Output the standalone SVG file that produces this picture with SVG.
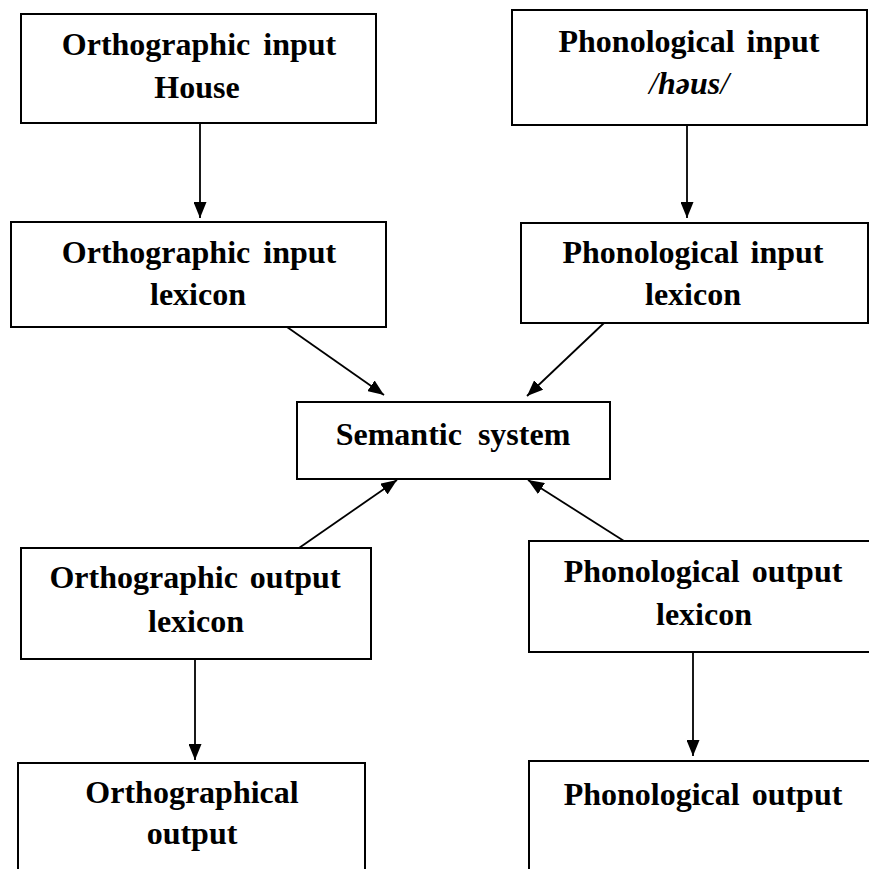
<svg xmlns="http://www.w3.org/2000/svg" width="869" height="869" viewBox="0 0 869 869">
<defs>
<style>
.box{fill:#fff;stroke:#000;stroke-width:2}
.t{font-family:"Liberation Serif","DejaVu Serif",serif;font-weight:bold;font-size:32px;fill:#000;text-anchor:middle}
.c{stroke:#000;stroke-width:1.8;fill:none;marker-end:url(#ah)}
</style>
<marker id="ah" viewBox="0 0 16 13" refX="16" refY="6.5" markerWidth="16" markerHeight="13" markerUnits="userSpaceOnUse" orient="auto">
<path d="M0,0 L16,6.5 L0,13 Z" fill="#000"/>
</marker>
</defs>
<rect width="869" height="869" fill="#fff"/>
<g id="connectors">
<line class="c" x1="200" y1="123" x2="200" y2="218"/>
<line class="c" x1="687" y1="125" x2="687" y2="218"/>
<line class="c" x1="287" y1="327" x2="384" y2="395"/>
<line class="c" x1="604" y1="323" x2="527" y2="396"/>
<line class="c" x1="299" y1="548" x2="397" y2="480"/>
<line class="c" x1="624" y1="541" x2="528" y2="480"/>
<line class="c" x1="195" y1="659" x2="195" y2="760"/>
<line class="c" x1="693" y1="652" x2="693" y2="756"/>
</g>
<g id="n1">
<rect class="box" x="21" y="14" width="355" height="109"/>
<text class="t" x="199" y="55" word-spacing="5">Orthographic input</text>
<text class="t" x="197" y="98">House</text>
</g>
<g id="n2">
<rect class="box" x="512" y="10" width="355" height="115"/>
<text class="t" x="689" y="52" word-spacing="4">Phonological input</text>
<text class="t" x="689" y="94" font-style="italic"><tspan font-weight="normal">/</tspan>həus<tspan font-weight="normal">/</tspan></text>
</g>
<g id="n3">
<rect class="box" x="11" y="222" width="375" height="105"/>
<text class="t" x="199" y="263" word-spacing="5">Orthographic input</text>
<text class="t" x="198" y="305">lexicon</text>
</g>
<g id="n4">
<rect class="box" x="521" y="223" width="347" height="100"/>
<text class="t" x="693" y="263" word-spacing="4">Phonological input</text>
<text class="t" x="693" y="305">lexicon</text>
</g>
<g id="n5">
<rect class="box" x="297" y="402" width="313" height="77"/>
<text class="t" x="453" y="445" word-spacing="8">Semantic system</text>
</g>
<g id="n6">
<rect class="box" x="21" y="548" width="350" height="111"/>
<text class="t" x="195" y="588" word-spacing="4">Orthographic output</text>
<text class="t" x="196" y="632">lexicon</text>
</g>
<g id="n7">
<rect class="box" x="529" y="541" width="360" height="111"/>
<text class="t" x="703" y="582" word-spacing="4">Phonological output</text>
<text class="t" x="704" y="625">lexicon</text>
</g>
<g id="n8">
<rect class="box" x="18" y="763" width="347" height="130"/>
<text class="t" x="192" y="803">Orthographical</text>
<text class="t" x="192" y="844">output</text>
</g>
<g id="n9">
<rect class="box" x="529" y="761" width="360" height="130"/>
<text class="t" x="703" y="805" word-spacing="4">Phonological output</text>
</g>
</svg>
